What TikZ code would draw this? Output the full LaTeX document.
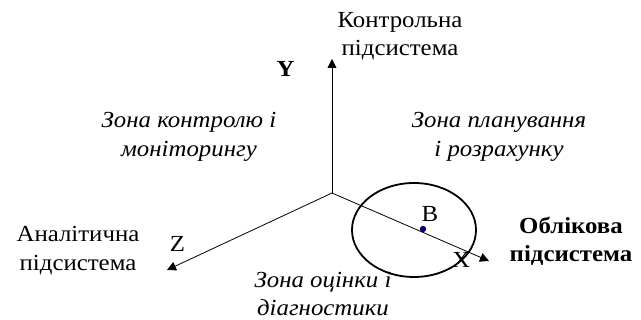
\documentclass[tikz,border=0pt]{standalone}
\usepackage{fontspec}
\setmainfont[FakeStretch=1.08]{Liberation Serif}
\usetikzlibrary{arrows.meta}

\begin{document}
\begin{tikzpicture}[x=1pt,y=-1pt,
    txt/.style={align=center,inner sep=0pt,font=\fontsize{23}{28.5}\selectfont},
    zona/.style={txt,font=\fontsize{23}{28.5}\selectfont\itshape},
    bukva/.style={txt,anchor=base},
    vis/.style={-{Triangle[length=9pt,width=9pt]},line width=0.8pt}]
    \useasboundingbox (0,0) rectangle (641,320);

    % Початок координат і кінці осей
    \coordinate (O) at (332,193);
    \coordinate (Y) at (332,59);
    \coordinate (Z) at (167,270);
    \coordinate (X) at (489,261);

    % Осі
    \draw[vis] (O) -- (Y);
    \draw[vis] (O) -- (Z);
    \draw[vis] (O) -- (X);

    % Коло і точка B
    \draw[line width=1.8pt] (414,230) ellipse (62 and 47);
    \fill[blue!40!black] (423,229) circle (3.2);

    % Підписи осей
    \node[bukva,font=\fontsize{23}{28.5}\selectfont\bfseries] (ly) at (285.5,77) {Y};
    \node[bukva] (lz) at (177.5,252) {Z};
    \node[bukva] (lx) at (461,268) {X};
    \node[bukva] (lb) at (430,222) {B};

    % Підсистеми
    \node[txt] (kontr) at (400,36) {Контрольна\\підсистема};
    \node[txt] (anal) at (78,250.5) {Аналітична\\підсистема};
    \node[txt,font=\fontsize{23}{28.5}\selectfont\bfseries] (oblik) at (571,241.5) {Облікова\\підсистема};

    % Зони
    \node[zona] (zk) at (189,137) {Зона контролю і\\моніторингу};
    \node[zona] (zp) at (499,137) {Зона планування\\і розрахунку};
    \node[zona] (zo) at (323,294) {Зона оцінки і\\діагностики};
\end{tikzpicture}
\end{document}
